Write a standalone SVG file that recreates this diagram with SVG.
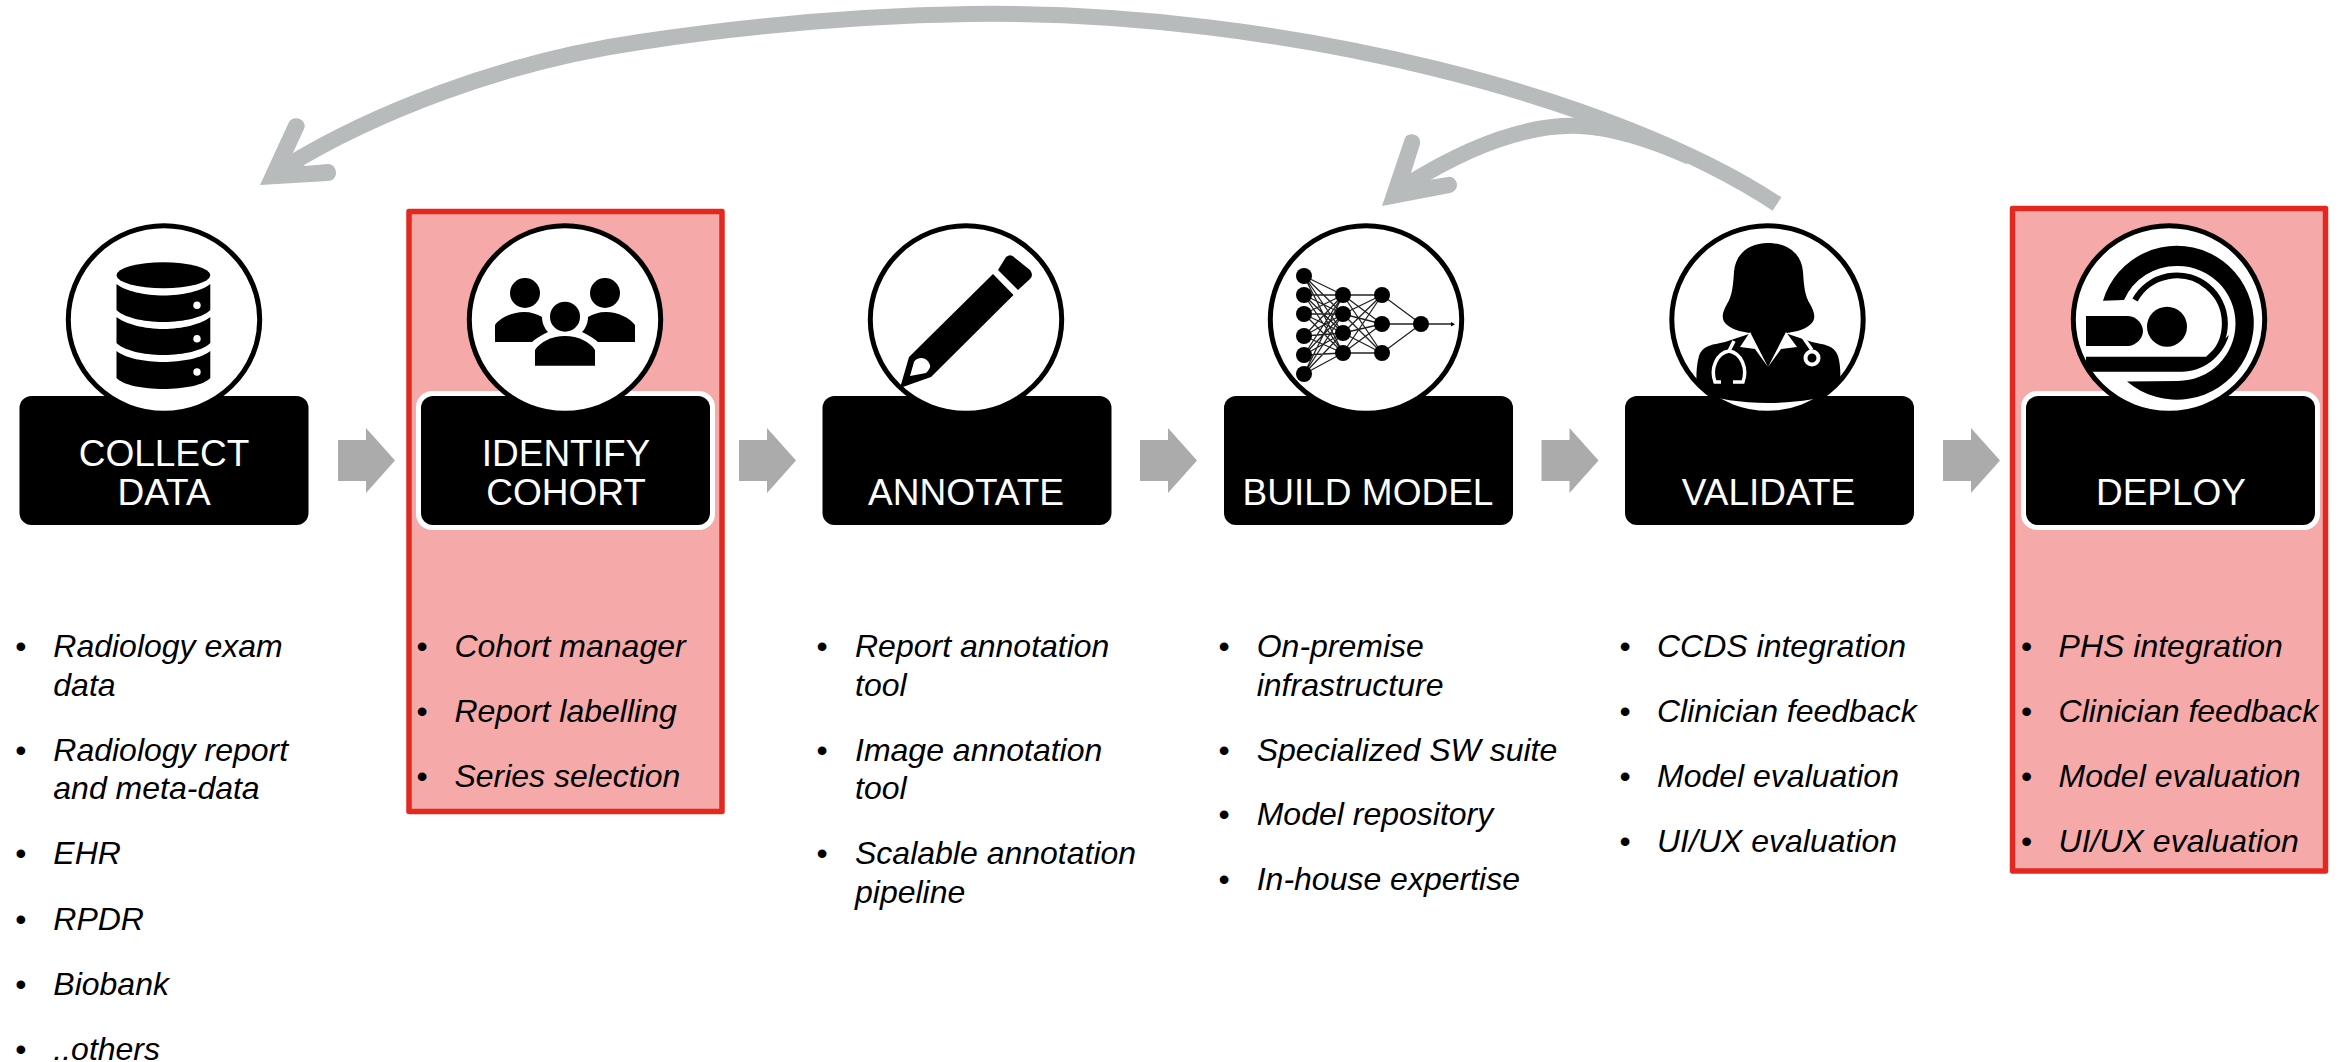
<svg xmlns="http://www.w3.org/2000/svg" width="2349" height="1062" viewBox="0 0 2349 1062">
<style>
text{font-family:"Liberation Sans",Arial,sans-serif}
.hl{fill:#F5A9A8;stroke:#E3281F;stroke-width:5.5;stroke-linejoin:round}
.box{fill:#000}
.halo{fill:#fff}
.disc{fill:#fff}
.ring{fill:none;stroke:#000;stroke-width:5}
.title{fill:#fff;font-size:37px;text-anchor:middle}
.item{fill:#000;font-size:32px;font-style:italic}
.bul{fill:#000;font-size:32px}
.step{fill:#ABABAB}
.fb{fill:#B7BBBB}
.fbl{fill:none;stroke:#B7BBBB;stroke-width:16}
</style>
<defs>
<clipPath id="c3"><ellipse cx="966" cy="319.5" rx="96" ry="94"/></clipPath>
<clipPath id="c5"><ellipse cx="1767.5" cy="319.5" rx="96" ry="94"/></clipPath>
<clipPath id="c6"><ellipse cx="2169" cy="319.5" rx="96" ry="94"/></clipPath>
</defs>
<rect width="2349" height="1062" fill="#fff"/>

<g id="highlight-cohort"><rect class="hl" x="409" y="211.5" width="313" height="600"/></g>
<g id="highlight-deploy"><rect class="hl" x="2012.5" y="208.5" width="313" height="662.500"/></g>

<g id="connectors">
<polygon class="step" points="338,440 366,440 366,428 395,460.500 366,493 366,481 338,481"/>
<polygon class="step" points="739,440 767,440 767,428 796,460.500 767,493 767,481 739,481"/>
<polygon class="step" points="1140,440 1168,440 1168,428 1197,460.500 1168,493 1168,481 1140,481"/>
<polygon class="step" points="1541.500,440 1569.500,440 1569.500,428 1598.500,460.500 1569.500,493 1569.500,481 1541.500,481"/>
<polygon class="step" points="1943,440 1971,440 1971,428 2000,460.500 1971,493 1971,481 1943,481"/>
<path class="fbl" d="M1777,204 C1620,100 1290,10 970,14 C830,16 720,30 640,42 C500,62 370,115 285,167"/>
<path class="fb" d="M260,185 L289,122 C292,117 301,117 304,123 C305,125 305,127 304,129 L292,155 L305,166 L328,164 C333,164 336,168 336,173 C336,178 332,181 328,181 Z"/>
<path class="fbl" d="M1405,186 C1470,145 1530,124 1580,126 C1615,128 1650,139 1690,157"/>
<path class="fb" d="M1382,206 L1405,138 C1407,133 1416,133 1419,138 C1420,140 1420,142 1420,144 L1411,173 L1429,180 L1448,177 C1453,176 1457,181 1457,185 C1457,189 1454,192 1450,193 Z"/>
</g>

<g id="node-collect">
<rect class="box" x="19.500" y="396" width="289" height="129" rx="12"/>
<ellipse class="disc" cx="164" cy="319.500" rx="96" ry="94"/>
<ellipse class="ring" cx="164" cy="319.500" rx="95.700" ry="93.800"/>
<ellipse cx="163.400" cy="275.300" rx="46.800" ry="13"/>
<path d="M116.500,284 C125,291 145,295.500 163.400,295.500 C182,295.500 202,291 210.300,284 V310 C204,317 184,322 163.400,322 C143,322 123,317 116.500,310 Z"/>
<path d="M116.500,317 C125,324 145,329 163.400,329 C182,329 202,324 210.300,317 V343 C204,350 184,355 163.400,355 C143,355 123,350 116.500,343 Z"/>
<path d="M116.500,351 C125,358 145,362 163.400,362 C182,362 202,358 210.300,351 V378 C204,385 184,389 163.400,389 C143,389 123,385 116.500,378 Z"/>
<g fill="#fff"><ellipse cx="197" cy="305.300" rx="3.700" ry="3.800"/><ellipse cx="197" cy="338.700" rx="3.700" ry="3.800"/><ellipse cx="197" cy="372" rx="3.700" ry="3.800"/></g>
<text class="title" x="164" y="465.700">COLLECT</text>
<text class="title" x="164" y="504.700">DATA</text>
<g>
<text class="bul" x="15.200" y="656.700">•</text><text class="item" x="53.300" y="656.700">Radiology exam</text>
<text class="item" x="53.300" y="696">data</text>
<text class="bul" x="15.200" y="760.700">•</text><text class="item" x="53.300" y="760.700">Radiology report</text>
<text class="item" x="53.300" y="799">and meta-data</text>
<text class="bul" x="15.200" y="864">•</text><text class="item" x="53.300" y="864">EHR</text>
<text class="bul" x="15.200" y="929.500">•</text><text class="item" x="53.300" y="929.500">RPDR</text>
<text class="bul" x="15.200" y="995">•</text><text class="item" x="53.300" y="995">Biobank</text>
<text class="bul" x="15.200" y="1060">•</text><text class="item" x="53.300" y="1060">..others</text>
</g>
</g>

<g id="node-cohort">
<rect class="halo" x="416" y="391" width="299" height="139" rx="16"/>
<rect class="box" x="421" y="396" width="289" height="129" rx="12"/>
<ellipse class="disc" cx="565" cy="319.500" rx="96" ry="94"/>
<ellipse class="ring" cx="565" cy="319.500" rx="95.700" ry="93.800"/>
<circle cx="525" cy="293" r="15"/><circle cx="605" cy="293" r="15"/><circle cx="565" cy="316.700" r="15"/>
<path d="M495,342 V325 C500,318 512,312 524,312 C531,312 537,314 542,317 C542,322 544,328 548,332 C542,335 536,338 532,342 Z"/>
<path d="M635,342 V325 C630,318 618,312 606,312 C599,312 593,314 588,317 C588,322 586,328 582,332 C588,335 594,338 598,342 Z"/>
<path d="M535,365.700 V350 C540,342 552,336 565,336 C578,336 590,342 595,350 V365.700 Z"/>
<text class="title" x="566" y="465.700">IDENTIFY</text>
<text class="title" x="566" y="504.700">COHORT</text>
<text class="bul" x="416.500" y="656.700">•</text><text class="item" x="454.400" y="656.700">Cohort manager</text>
<text class="bul" x="416.500" y="722">•</text><text class="item" x="454.400" y="722">Report labelling</text>
<text class="bul" x="416.500" y="787">•</text><text class="item" x="454.400" y="787">Series selection</text>
</g>

<g id="node-annotate">
<rect class="box" x="822.500" y="396" width="289" height="129" rx="12"/>
<ellipse class="disc" cx="966" cy="319.500" rx="96" ry="94"/>
<g clip-path="url(#c3)">
<path d="M1006,257 Q1011,253 1015,258 L1030,270 Q1034,275 1030,279 L1018,290 L998,270 Z"/>
<path fill-rule="evenodd" d="M993,274 L1013.500,295 L931,377 L900,388 L909,357 Z M910,376 L926,373 Q931,368 930,365 Q928,359 922,358 Q916,358 914,362 Z"/>
</g>
<ellipse class="ring" cx="966" cy="319.500" rx="95.700" ry="93.800"/>
<text class="title" x="966" y="504.700">ANNOTATE</text>
<text class="bul" x="816.400" y="656.700">•</text><text class="item" x="855" y="656.700">Report annotation</text>
<text class="item" x="855" y="696">tool</text>
<text class="bul" x="816.400" y="760.700">•</text><text class="item" x="855" y="760.700">Image annotation</text>
<text class="item" x="855" y="799">tool</text>
<text class="bul" x="816.400" y="864">•</text><text class="item" x="855" y="864">Scalable annotation</text>
<text class="item" x="855" y="902.700">pipeline</text>
</g>

<g id="node-build">
<rect class="box" x="1224" y="396" width="289" height="129" rx="12"/>
<ellipse class="disc" cx="1366" cy="319.500" rx="96" ry="94"/>
<path fill="none" stroke="#222" stroke-width="1.300" d="M1304,276L1343,295M1304,276L1343,314M1304,276L1343,333M1304,276L1343,353M1304,295L1343,295M1304,295L1343,314M1304,295L1343,333M1304,295L1343,353M1304,314L1343,295M1304,314L1343,314M1304,314L1343,333M1304,314L1343,353M1304,336L1343,295M1304,336L1343,314M1304,336L1343,333M1304,336L1343,353M1304,355L1343,295M1304,355L1343,314M1304,355L1343,333M1304,355L1343,353M1304,374L1343,295M1304,374L1343,314M1304,374L1343,333M1304,374L1343,353M1343,295L1382,295M1343,295L1382,324M1343,295L1382,353M1343,314L1382,295M1343,314L1382,324M1343,314L1382,353M1343,333L1382,295M1343,333L1382,324M1343,333L1382,353M1343,353L1382,295M1343,353L1382,324M1343,353L1382,353M1382,295L1421,324M1382,324L1421,324M1382,353L1421,324M1421,324L1453,324"/>
<polygon points="1451,322 1455,324.300 1451,326.500"/>
<g>
<circle cx="1304" cy="276" r="8"/><circle cx="1304" cy="295" r="8"/><circle cx="1304" cy="314" r="8"/><circle cx="1304" cy="336" r="8"/><circle cx="1304" cy="355" r="8"/><circle cx="1304" cy="374" r="8"/>
<circle cx="1343" cy="295" r="8"/><circle cx="1343" cy="314" r="8"/><circle cx="1343" cy="333" r="8"/><circle cx="1343" cy="353" r="8"/>
<circle cx="1382" cy="295" r="8"/><circle cx="1382" cy="324" r="8"/><circle cx="1382" cy="353" r="8"/>
<circle cx="1421" cy="324" r="8"/>
</g>
<ellipse class="ring" cx="1366" cy="319.500" rx="95.700" ry="93.800"/>
<text class="title" x="1368" y="504.700">BUILD MODEL</text>
<text class="bul" x="1218.400" y="656.700">•</text><text class="item" x="1256.700" y="656.700">On-premise</text>
<text class="item" x="1256.700" y="696">infrastructure</text>
<text class="bul" x="1218.400" y="760.700">•</text><text class="item" x="1256.700" y="760.700">Specialized SW suite</text>
<text class="bul" x="1218.400" y="825">•</text><text class="item" x="1256.700" y="825">Model repository</text>
<text class="bul" x="1218.400" y="890">•</text><text class="item" x="1256.700" y="890">In-house expertise</text>
</g>

<g id="node-validate">
<rect class="box" x="1625" y="396" width="289" height="129" rx="12"/>
<ellipse class="disc" cx="1767.500" cy="319.500" rx="96" ry="94"/>
<g clip-path="url(#c5)">
<path d="M1768,243 C1748,243 1735,255 1734,272 C1733,287 1732,296 1727,304 C1722,313 1721,319 1726,324 C1733,331 1745,332 1754,334 L1782,334 C1792,332 1804,331 1811,324 C1816,319 1815,313 1810,304 C1805,296 1804,287 1803,272 C1802,255 1789,243 1768,243 Z"/>
<path d="M1752,333 L1725,342 C1712,345 1703,345 1699,356 C1696,366 1696,380 1697,392 C1716,399 1741,403 1768,403 C1795,403 1820,399 1839,392 C1841,380 1841,366 1838,356 C1834,345 1825,345 1812,342 L1785,333 Z"/>
<path fill="#fff" d="M1750,332 L1740,347 L1755,349 L1768,367 Z M1786,332 L1797,347 L1781,349 L1768,367 Z"/>
<path fill="none" stroke="#fff" stroke-width="3.500" d="M1734,341 L1729,351 M1721,382 H1715 C1710,368 1717,353 1729,351 C1741,353 1748,368 1743,382 H1733 M1803,337 L1812,350"/>
<circle cx="1812" cy="358" r="6.500" fill="none" stroke="#fff" stroke-width="4"/>
</g>
<ellipse class="ring" cx="1767.500" cy="319.500" rx="95.700" ry="93.800"/>
<text class="title" x="1768.500" y="504.700">VALIDATE</text>
<text class="bul" x="1619.400" y="656.700">•</text><text class="item" x="1657" y="656.700">CCDS integration</text>
<text class="bul" x="1619.400" y="721.700">•</text><text class="item" x="1657" y="721.700">Clinician feedback</text>
<text class="bul" x="1619.400" y="786.700">•</text><text class="item" x="1657" y="786.700">Model evaluation</text>
<text class="bul" x="1619.400" y="851.700">•</text><text class="item" x="1657" y="851.700">UI/UX evaluation</text>
</g>

<g id="node-deploy">
<rect class="halo" x="2021" y="391" width="299" height="139" rx="16"/>
<rect class="box" x="2026" y="396" width="289" height="129" rx="12"/>
<ellipse class="disc" cx="2169" cy="319.500" rx="96" ry="94"/>
<g clip-path="url(#c6)">
<path d="M2103,300.700 A77,77 0 1 1 2127,381.500 L2178,381 A57.500,57.500 0 0 0 2178,266 A57.500,57.500 0 0 0 2124,300 Z"/>
<path fill="none" stroke="#000" stroke-width="6" d="M2135,300 A48,48 0 1 1 2208,360"/>
<path d="M2086,356.700 H2206 L2229,335 C2222,358 2202,371.700 2182,371.700 H2086 Z"/>
<path d="M2086,316 H2128 C2137,316 2143,325 2143,331 C2143,339 2135,346 2128,346 H2086 Z"/>
<circle cx="2167" cy="326.700" r="20"/>
</g>
<ellipse class="ring" cx="2169" cy="319.500" rx="95.700" ry="93.800"/>
<text class="title" x="2171" y="504.700">DEPLOY</text>
<text class="bul" x="2021" y="656.700">•</text><text class="item" x="2058.600" y="656.700">PHS integration</text>
<text class="bul" x="2021" y="721.700">•</text><text class="item" x="2058.600" y="721.700">Clinician feedback</text>
<text class="bul" x="2021" y="786.700">•</text><text class="item" x="2058.600" y="786.700">Model evaluation</text>
<text class="bul" x="2021" y="851.700">•</text><text class="item" x="2058.600" y="851.700">UI/UX evaluation</text>
</g>
</svg>
